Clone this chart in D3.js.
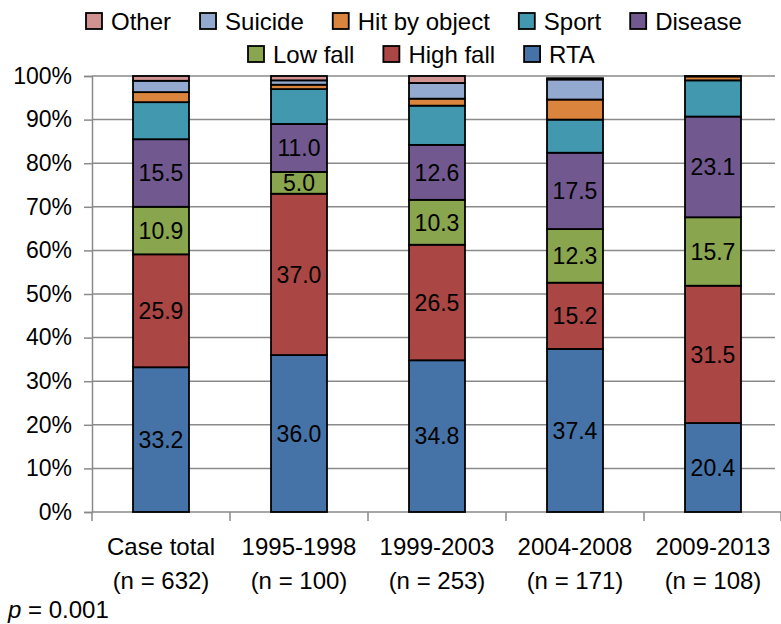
<!DOCTYPE html>
<html>
<head>
<meta charset="utf-8">
<script src="https://cdn.jsdelivr.net/npm/d3@7"></script>
<style>
  body { margin: 0; background: #fff; }
  text { font-family: "Liberation Sans", Arial, sans-serif; fill: #000; }
</style>
</head>
<body>
<svg id="chart" width="781" height="624"></svg>
<script>
// categories and sub-labels
const categories = ["Case total", "1995-1998", "1999-2003", "2004-2008", "2009-2013"];
const sampleSizes = ["(n = 632)", "(n = 100)", "(n = 253)", "(n = 171)", "(n = 108)"];

// series, bottom to top
const seriesNames = ["RTA", "High fall", "Low fall", "Disease", "Sport", "Hit by object", "Suicide", "Other"];
const seriesColors = ["#4572A7", "#AA4643", "#89A54E", "#71588F", "#4198AF", "#DB843D", "#93A9CF", "#D19392"];

// percentages per category (same order as categories)
const rta        = [33.2, 36.0, 34.8, 37.4, 20.4];
const highFall   = [25.9, 37.0, 26.5, 15.2, 31.5];
const lowFall    = [10.9,  5.0, 10.3, 12.3, 15.7];
const disease    = [15.5, 11.0, 12.6, 17.5, 23.1];
const sport      = [ 8.5,  8.0,  9.0,  7.6,  8.3];
const hitByObj   = [ 2.3,  1.0,  1.6,  4.6,  0.9];
const suicide    = [ 2.6,  1.0,  3.6,  4.6,  0.0];
const other      = [ 1.1,  1.0,  1.6,  0.3,  0.1];

// which series get a value label inside the bar
const labelled = ["RTA", "High fall", "Low fall", "Disease"];

const yTicks = [0, 10, 20, 30, 40, 50, 60, 70, 80, 90, 100];

// legend layout: two rows, as in the original
const legendRow1 = ["Other", "Suicide", "Hit by object", "Sport", "Disease"];
const legendRow2 = ["Low fall", "High fall", "RTA"];

// build a table for d3.stack
const seriesValues = [rta, highFall, lowFall, disease, sport, hitByObj, suicide, other];
const table = categories.map((c, i) => {
  const row = { category: c };
  seriesNames.forEach((s, j) => row[s] = seriesValues[j][i]);
  return row;
});

const svg = d3.select("#chart");
const plotLeft = 92, plotRight = 782, plotTop = 76, plotBottom = 512;
const fontSize = "24px";

const x = d3.scaleBand().domain(categories).range([plotLeft, plotRight]).padding(0);
const y = d3.scaleLinear().domain([0, 100]).range([plotBottom, plotTop]);
const color = d3.scaleOrdinal().domain(seriesNames).range(seriesColors);
const barWidth = 56;

// gridlines
svg.append("g")
  .selectAll("line")
  .data(yTicks.filter(d => d > 0))
  .join("line")
  .attr("x1", plotLeft).attr("x2", 775)
  .attr("y1", d => y(d)).attr("y2", d => y(d))
  .attr("stroke", "#8a8a8a")
  .attr("stroke-width", 1.5);

// y axis
const yAxis = svg.append("g")
  .attr("transform", `translate(${plotLeft},0)`)
  .call(d3.axisLeft(y).tickValues(yTicks).tickFormat(d => d + "%").tickSize(8).tickPadding(12));
yAxis.select(".domain").attr("stroke", "#8a8a8a").attr("stroke-width", 1.5);
yAxis.selectAll(".tick line").attr("stroke", "#8a8a8a").attr("stroke-width", 1.5);
yAxis.selectAll("text")
  .style("font-size", "23px")
  .style("font-family", "Liberation Sans, Arial, sans-serif")
  .attr("fill", "#000");

// x axis line and boundary ticks
svg.append("line")
  .attr("x1", plotLeft).attr("x2", plotRight)
  .attr("y1", plotBottom).attr("y2", plotBottom)
  .attr("stroke", "#8a8a8a").attr("stroke-width", 1.5);
svg.append("g")
  .selectAll("line")
  .data(categories.map(c => x(c)).concat([plotRight - 1]))
  .join("line")
  .attr("x1", d => d).attr("x2", d => d)
  .attr("y1", plotBottom).attr("y2", plotBottom + 9)
  .attr("stroke", "#8a8a8a").attr("stroke-width", 1.5);

// x labels (two lines)
const xl = svg.append("g").selectAll("text")
  .data(categories)
  .join("text")
  .attr("text-anchor", "middle")
  .style("font-size", fontSize);
xl.append("tspan").attr("x", d => x(d) + x.bandwidth() / 2).attr("y", 555).text(d => d);
xl.append("tspan").attr("x", d => x(d) + x.bandwidth() / 2).attr("y", 589).text((d, i) => sampleSizes[i]);

// stacked bars
const stacked = d3.stack().keys(seriesNames)(table);

const layers = svg.append("g")
  .selectAll("g")
  .data(stacked)
  .join("g")
  .attr("fill", d => color(d.key));

layers.selectAll("rect")
  .data(d => d.map(v => ({ key: d.key, v })))
  .join("rect")
  .attr("x", d => x(d.v.data.category) + x.bandwidth() / 2 - barWidth / 2)
  .attr("y", d => y(d.v[1]))
  .attr("width", barWidth)
  .attr("height", d => Math.max(0, y(d.v[0]) - y(d.v[1])))
  .attr("stroke", "#000")
  .attr("stroke-width", d => (d.v[1] - d.v[0]) > 0 ? 1.8 : 0);

// value labels
layers.filter(d => labelled.includes(d.key))
  .selectAll("text")
  .data(d => d.map(v => ({ key: d.key, v })))
  .join("text")
  .attr("x", d => x(d.v.data.category) + x.bandwidth() / 2)
  .attr("y", d => y((d.v[0] + d.v[1]) / 2))
  .attr("dy", "0.36em")
  .attr("text-anchor", "middle")
  .style("font-size", "23px")
  .text(d => (d.v[1] - d.v[0]).toFixed(1));

// legend: items laid out left to right, each row centred over the plot
function drawLegendRow(names, cy, startX) {
  const g = svg.append("g");
  let cx = startX;
  names.forEach(name => {
    g.append("rect")
      .attr("x", cx).attr("y", cy - 8)
      .attr("width", 16).attr("height", 16)
      .attr("fill", color(name))
      .attr("stroke", "#000").attr("stroke-width", 1.8);
    const t = g.append("text")
      .attr("x", cx + 25).attr("y", cy)
      .attr("dy", "0.36em")
      .style("font-size", fontSize)
      .text(name);
    cx += 25 + t.node().getComputedTextLength() + 29;
  });
}
drawLegendRow(legendRow1, 21, 86);
drawLegendRow(legendRow2, 54, 248);

// p value note
const note = svg.append("text").attr("x", 8).attr("y", 618).style("font-size", fontSize);
note.append("tspan").style("font-style", "italic").text("p");
note.append("tspan").text(" = 0.001");
</script>
</body>
</html>
